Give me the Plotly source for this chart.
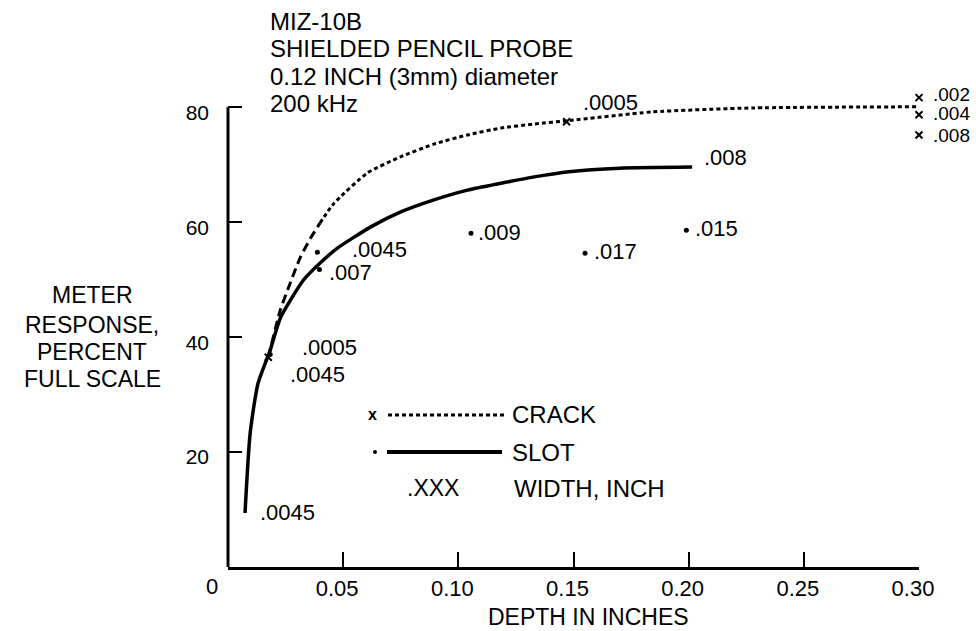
import plotly.graph_objects as go

# ---------------- data ----------------
crack_lower_x = [0.0175, 0.0227, 0.027, 0.0314, 0.0358, 0.040]
crack_lower_y = [36.5, 44.7, 49.4, 53.9, 57.2, 59.9]
crack_upper_x = [0.040, 0.0458, 0.0606, 0.075, 0.0894, 0.104, 0.1186, 0.133, 0.148, 0.184, 0.228, 0.30]
crack_upper_y = [59.9, 63.2, 68.6, 71.4, 73.6, 75.2, 76.4, 77.1, 77.7, 79.2, 79.9, 80.1]

slot_x = [0.0074, 0.0096, 0.013, 0.0183, 0.0227, 0.0327, 0.040, 0.0475, 0.062, 0.075, 0.0894, 0.104, 0.1186, 0.133, 0.148, 0.170, 0.2015]
slot_y = [9.4, 23.2, 31.9, 37.7, 43.3, 49.9, 52.9, 55.5, 59.2, 61.8, 63.9, 65.6, 66.8, 67.9, 68.8, 69.4, 69.6]

crack_pts_x = [0.0175, 0.147, 0.30, 0.30, 0.30]
crack_pts_y = [36.5, 77.5, 81.7, 78.7, 75.2]
crack_labels = [".0005", ".0005", ".002", ".004", ".008"]

slot_pts_x = [0.0074, 0.0183, 0.0388, 0.0397, 0.1055, 0.155, 0.199, 0.2015]
slot_pts_y = [9.4, 37.0, 54.8, 51.8, 58.1, 54.6, 58.6, 69.6]
slot_labels = [".0045", ".0045", ".0045", ".007", ".009", ".017", ".015", ".008"]
slot_dot_visible = [False, True, True, True, True, True, True, False]

x_ticks = [0.05, 0.10, 0.15, 0.20, 0.25, 0.30]
x_tick_labels = ["0.05", "0.10", "0.15", "0.20", "0.25", "0.30"]
y_ticks = [20, 40, 60, 80]
y_tick_labels = ["20", "40", "60", "80"]
y_axis_top = 80

title_lines = ["MIZ-10B", "SHIELDED PENCIL PROBE", "0.12 INCH (3mm) diameter", "200 kHz"]
y_title_lines = ["METER", "RESPONSE,", "PERCENT", "FULL SCALE"]
x_title = "DEPTH IN INCHES"
legend_texts = ["CRACK", "SLOT", "WIDTH, INCH"]

# ---------------- styling / layout helpers ----------------
W, H = 976, 631
Y_MAX = 82.5
L, R, B = 228, 57, 64
Y0_PX = H - B                      # pixel row of y = 0
Y80_PX = 107                       # pixel row of y = 80
PX_PER_Y = (Y0_PX - Y80_PX) / 80.0
T = int(round(Y80_PX - (Y_MAX - 80) * PX_PER_Y))
PW, PH = W - L - R, H - T - B

def px(x):
    return (x - L) / PW

def py(y):
    return (H - B - y) / PH

FONT = "Liberation Sans, Arial, Helvetica, sans-serif"
BLACK = "#000000"

# label offsets in pixels (dx to left edge, dy of centre; +dy = downward) and font sizes
crack_off = [(32, -10), (14, -19), (12, -3), (12, -1), (12, 1)]
crack_size = [22, 22, 19, 19, 19]
slot_off = [(13, 0), (18, 20), (33, -3), (8, 3), (5, -1), (7, -2), (7, -2), (10, -10)]

fig = go.Figure()

fig.add_trace(go.Scatter(x=slot_x, y=slot_y, mode="lines",
                         line=dict(color=BLACK, width=3.5, shape="spline", smoothing=0.6),
                         showlegend=False, hoverinfo="skip"))
fig.add_trace(go.Scatter(x=crack_lower_x, y=crack_lower_y, mode="lines",
                         line=dict(color=BLACK, width=3, dash="9px,5px", shape="spline", smoothing=0.6),
                         showlegend=False, hoverinfo="skip"))
fig.add_trace(go.Scatter(x=crack_upper_x, y=crack_upper_y, mode="lines",
                         line=dict(color=BLACK, width=3, dash="4px,3px", shape="spline", smoothing=0.6),
                         showlegend=False, hoverinfo="skip"))

fig.add_trace(go.Scatter(x=crack_pts_x, y=crack_pts_y, mode="markers",
                         marker=dict(symbol="x-thin", size=7, line=dict(color=BLACK, width=2)),
                         cliponaxis=False, showlegend=False, hoverinfo="skip"))
fig.add_trace(go.Scatter(x=[x for x, v in zip(slot_pts_x, slot_dot_visible) if v],
                         y=[y for y, v in zip(slot_pts_y, slot_dot_visible) if v],
                         mode="markers", marker=dict(symbol="circle", size=5, color=BLACK),
                         cliponaxis=False, showlegend=False, hoverinfo="skip"))

ann = []
for x, y, t, (dx, dy), s in zip(crack_pts_x, crack_pts_y, crack_labels, crack_off, crack_size):
    ann.append(dict(x=x, y=y, xref="x", yref="y", text=t, showarrow=False,
                    xanchor="left", yanchor="middle", xshift=dx, yshift=-dy,
                    font=dict(family=FONT, size=s, color=BLACK)))
for x, y, t, (dx, dy) in zip(slot_pts_x, slot_pts_y, slot_labels, slot_off):
    ann.append(dict(x=x, y=y, xref="x", yref="y", text=t, showarrow=False,
                    xanchor="left", yanchor="middle", xshift=dx, yshift=-dy,
                    font=dict(family=FONT, size=22, color=BLACK)))

# title block
for t, yc in zip(title_lines, [21.5, 48.8, 76.1, 103.4]):
    ann.append(dict(x=px(268), y=py(yc), xref="paper", yref="paper", text=t, showarrow=False,
                    xanchor="left", yanchor="middle", font=dict(family=FONT, size=24, color=BLACK)))

# y-axis title
for t, yc in zip(y_title_lines, [295, 325, 352, 379]):
    ann.append(dict(x=px(92), y=py(yc), xref="paper", yref="paper", text=t, showarrow=False,
                    xanchor="center", yanchor="middle", font=dict(family=FONT, size=23, color=BLACK)))

# x-axis title and origin label
ann.append(dict(x=px(588), y=py(617), xref="paper", yref="paper", text=x_title, showarrow=False,
                xanchor="center", yanchor="middle", font=dict(family=FONT, size=23, color=BLACK)))
ann.append(dict(x=px(212), y=py(586), xref="paper", yref="paper", text="0", showarrow=False,
                xanchor="center", yanchor="middle", font=dict(family=FONT, size=22, color=BLACK)))

# y axis line (stops at 80 like the original)
shapes = [
    dict(type="line", xref="paper", yref="y", x0=0, x1=0, y0=0, y1=y_axis_top,
         line=dict(color=BLACK, width=3)),
]
# legend block (drawn manually)
shapes += [
    dict(type="line", xref="paper", yref="paper", x0=px(388), x1=px(507), y0=py(415), y1=py(415),
         line=dict(color=BLACK, width=3, dash="4px,3px")),
    dict(type="line", xref="paper", yref="paper", x0=px(387), x1=px(502), y0=py(452), y1=py(452),
         line=dict(color=BLACK, width=4)),
    dict(type="circle", xref="paper", yref="paper", x0=px(373), x1=px(377), y0=py(450), y1=py(454),
         fillcolor=BLACK, line=dict(color=BLACK, width=0)),
]
ann.append(dict(x=px(372), y=py(414), xref="paper", yref="paper", text="<b>x</b>", showarrow=False,
                xanchor="center", yanchor="middle", font=dict(family=FONT, size=16, color=BLACK)))
for t, (xl, yc) in zip(legend_texts, [(510, 415), (510, 452), (512, 488)]):
    ann.append(dict(x=px(xl), y=py(yc), xref="paper", yref="paper", text=t, showarrow=False,
                    xanchor="left", yanchor="middle", font=dict(family=FONT, size=24, color=BLACK)))
ann.append(dict(x=px(405), y=py(488), xref="paper", yref="paper", text=".XXX", showarrow=False,
                xanchor="left", yanchor="middle", font=dict(family=FONT, size=23, color=BLACK)))

fig.update_layout(
    width=W, height=H,
    margin=dict(l=L, r=R, t=T, b=B, pad=0),
    paper_bgcolor="white", plot_bgcolor="white",
    showlegend=False,
    annotations=ann,
    shapes=shapes,
    xaxis=dict(range=[0, 0.30], showgrid=False, zeroline=False,
               showline=True, linecolor=BLACK, linewidth=3,
               ticks="inside", ticklen=15, tickwidth=2, tickcolor=BLACK,
               tickvals=x_ticks, ticktext=x_tick_labels,
               tickfont=dict(family=FONT, size=22, color=BLACK),
               ticklabelshift=-6, ticklabelstandoff=0),
    yaxis=dict(range=[0, Y_MAX], showgrid=False, zeroline=False,
               showline=False,
               ticks="inside", ticklen=14, tickwidth=2, tickcolor=BLACK,
               tickvals=y_ticks, ticktext=y_tick_labels,
               tickfont=dict(family=FONT, size=21, color=BLACK),
               ticklabelstandoff=18, ticklabelshift=5),
)

fig.write_html("out.html",
               config={"displayModeBar": False},
               post_script="document.body.style.margin='0';document.body.style.overflow='hidden';")
